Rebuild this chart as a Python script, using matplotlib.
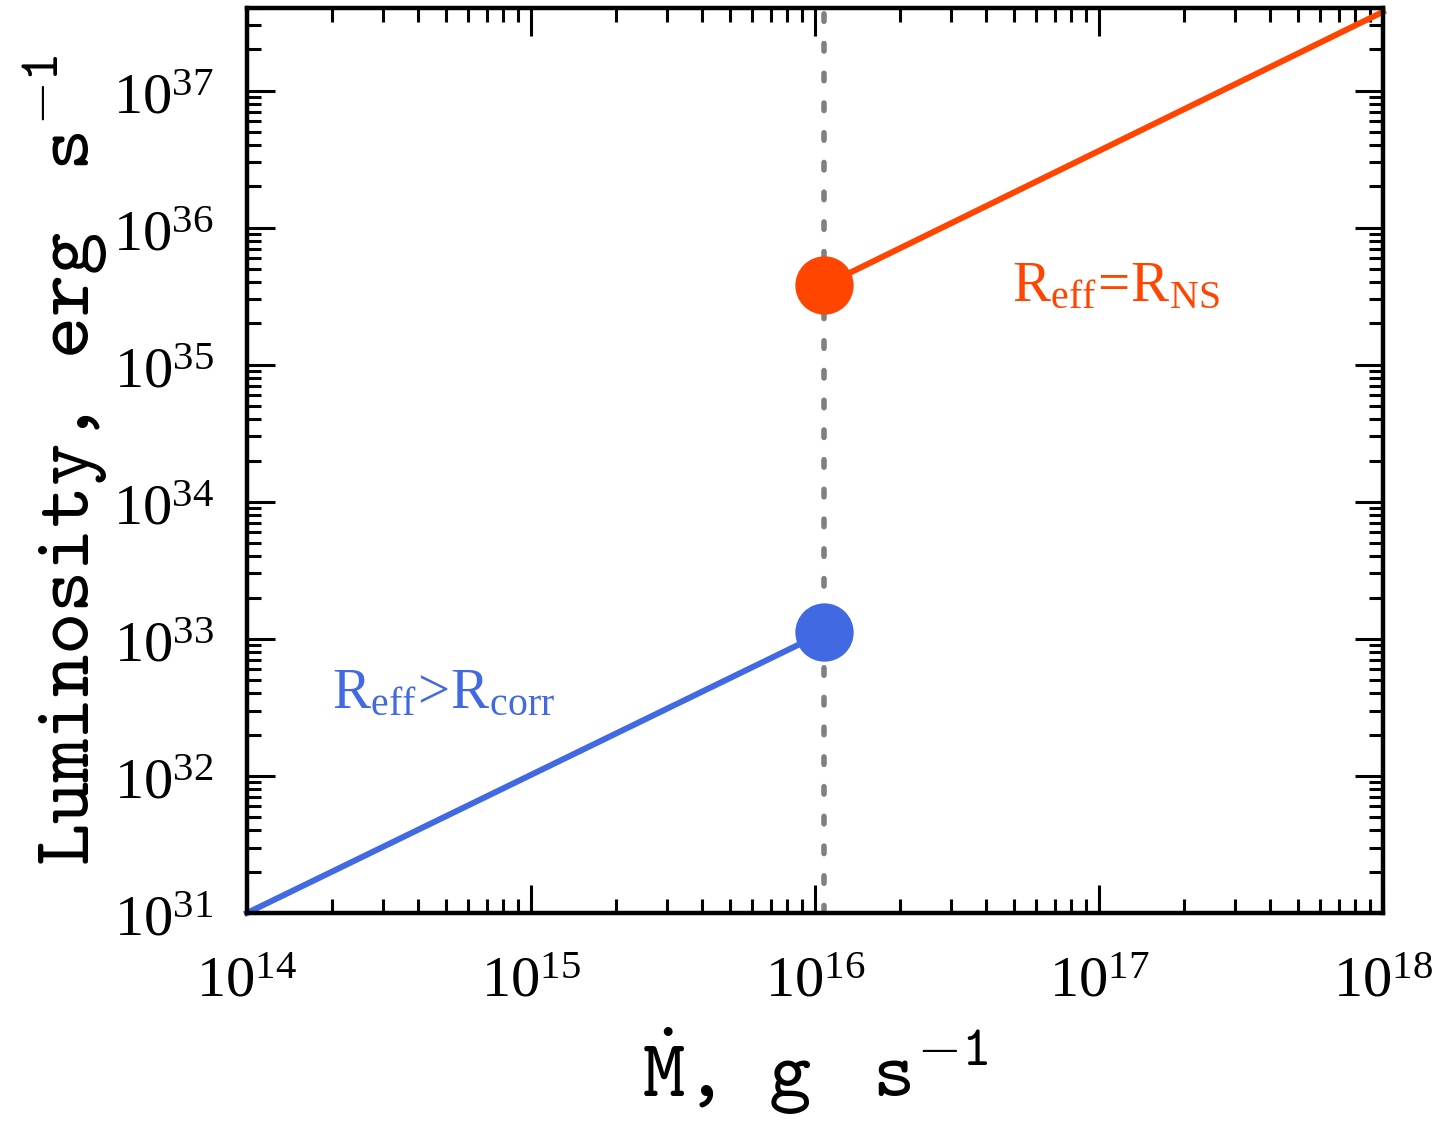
import matplotlib
matplotlib.use("Agg")
import matplotlib.pyplot as plt
from matplotlib.ticker import FixedLocator, FixedFormatter, LogLocator, NullFormatter

plt.rcParams['mathtext.fontset'] = 'custom'
plt.rcParams['mathtext.rm'] = 'Liberation Serif'
plt.rcParams['mathtext.it'] = 'Liberation Serif:italic'
plt.rcParams['mathtext.tt'] = 'cmtt10'

# data
mdot_low = [1e14, 1.08e16]
lum_low = [1.0e31, 1.12e33]
mdot_high = [1.08e16, 1e18]
lum_high = [3.8e35, 3.75e37]
mdot_crit = 1.08e16

x_ticks = [1e14, 1e15, 1e16, 1e17, 1e18]
x_labels = [r'$\mathrm{10^{14}}$', r'$\mathrm{10^{15}}$', r'$\mathrm{10^{16}}$',
            r'$\mathrm{10^{17}}$', r'$\mathrm{10^{18}}$']
y_ticks = [1e31, 1e32, 1e33, 1e34, 1e35, 1e36, 1e37]
y_labels = [r'$\mathrm{10^{31}}$', r'$\mathrm{10^{32}}$', r'$\mathrm{10^{33}}$',
            r'$\mathrm{10^{34}}$', r'$\mathrm{10^{35}}$', r'$\mathrm{10^{36}}$',
            r'$\mathrm{10^{37}}$']

blue = '#4169E1'
orange = '#FF4500'

fig = plt.figure(figsize=(14.39, 11.21), dpi=100)
ax = fig.add_axes([247 / 1439, 1 - 913 / 1121, (1383 - 247) / 1439, (913 - 8) / 1121])
ax.set_xscale('log')
ax.set_yscale('log')
ax.set_xlim(1e14, 1e18)
ax.set_ylim(1e31, 4.0e37)

# vertical dotted line at the transition
ax.axvline(mdot_crit, color='#808080', lw=4, ls=(0, (1.35, 4.0)),
           dash_capstyle='round', zorder=1)

ax.plot(mdot_low, lum_low, color=blue, lw=4.3, zorder=2, clip_on=False)
ax.plot(mdot_high, lum_high, color=orange, lw=4.3, zorder=2, clip_on=False)
ax.plot([mdot_low[-1]], [lum_low[-1]], 'o', color=blue, ms=41, zorder=3)
ax.plot([mdot_high[0]], [lum_high[0]], 'o', color=orange, ms=41, zorder=3)

ax.text(2.0e14, 3.1e32, r'$\mathrm{R_{eff}\!>\!R_{corr}}$', color=blue,
        fontsize=41, va='baseline', ha='left')
ax.text(4.95e16, 2.9e35, r'$\mathrm{R_{eff}\!=\!R_{NS}}$', color=orange,
        fontsize=41, va='baseline', ha='left')

ax.xaxis.set_major_locator(FixedLocator(x_ticks))
ax.xaxis.set_major_formatter(FixedFormatter(x_labels))
ax.yaxis.set_major_locator(FixedLocator(y_ticks))
ax.yaxis.set_major_formatter(FixedFormatter(y_labels))
ax.xaxis.set_minor_locator(LogLocator(base=10, subs=range(2, 10), numticks=50))
ax.yaxis.set_minor_locator(LogLocator(base=10, subs=range(2, 10), numticks=50))
ax.xaxis.set_minor_formatter(NullFormatter())
ax.yaxis.set_minor_formatter(NullFormatter())

ax.tick_params(which='both', direction='in', top=True, right=True, width=2.2,
               labelsize=42)
ax.tick_params(which='major', length=20)
ax.tick_params(which='minor', length=10)
ax.tick_params(axis='x', pad=28)
ax.tick_params(axis='y', pad=24)

for sp in ax.spines.values():
    sp.set_linewidth(3.2)

sp1 = r'\hspace{0.525}'
sp2 = r'\hspace{1.05}'
ax.set_xlabel(r'$\mathtt{\dot{M},' + sp1 + 'g' + sp2 + 's^{-1}}$',
              fontsize=58, labelpad=12)
ax.set_ylabel(r'$\mathtt{Luminosity,' + sp1 + 'erg' + sp2 + 's^{-1}}$',
              fontsize=58, labelpad=2)

fig.savefig('out.png', dpi=100)
